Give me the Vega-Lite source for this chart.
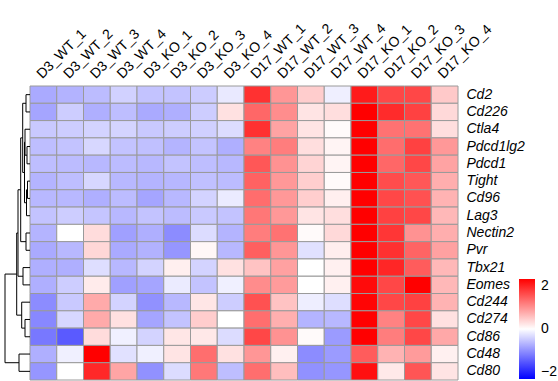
{
"$schema": "https://vega.github.io/schema/vega-lite/v6.json",
"padding": {"left": 4, "top": 20, "right": 2, "bottom": 3},
"background": "white",
"config": {"view": {"stroke": null}, "font": "Liberation Sans"},
"datasets": {
"m": [
{"g":"Cd2","s":"D3_WT_1","v":-0.78},{"g":"Cd2","s":"D3_WT_2","v":-0.7},{"g":"Cd2","s":"D3_WT_3","v":-0.62},{"g":"Cd2","s":"D3_WT_4","v":-0.42},{"g":"Cd2","s":"D3_KO_1","v":-0.55},{"g":"Cd2","s":"D3_KO_2","v":-0.55},{"g":"Cd2","s":"D3_KO_3","v":-0.47},{"g":"Cd2","s":"D3_KO_4","v":-0.2},{"g":"Cd2","s":"D17_WT_1","v":1.9},{"g":"Cd2","s":"D17_WT_2","v":0.97},{"g":"Cd2","s":"D17_WT_3","v":0.46},{"g":"Cd2","s":"D17_WT_4","v":-0.15},{"g":"Cd2","s":"D17_KO_1","v":2.1},{"g":"Cd2","s":"D17_KO_2","v":1.7},{"g":"Cd2","s":"D17_KO_3","v":1.7},{"g":"Cd2","s":"D17_KO_4","v":0.5},
{"g":"Cd226","s":"D3_WT_1","v":-0.83},{"g":"Cd226","s":"D3_WT_2","v":-0.46},{"g":"Cd226","s":"D3_WT_3","v":-0.74},{"g":"Cd226","s":"D3_WT_4","v":-0.6},{"g":"Cd226","s":"D3_KO_1","v":-0.78},{"g":"Cd226","s":"D3_KO_2","v":-0.74},{"g":"Cd226","s":"D3_KO_3","v":-0.46},{"g":"Cd226","s":"D3_KO_4","v":0.28},{"g":"Cd226","s":"D17_WT_1","v":1.4},{"g":"Cd226","s":"D17_WT_2","v":1.05},{"g":"Cd226","s":"D17_WT_3","v":0.25},{"g":"Cd226","s":"D17_WT_4","v":0.3},{"g":"Cd226","s":"D17_KO_1","v":2.35},{"g":"Cd226","s":"D17_KO_2","v":1.95},{"g":"Cd226","s":"D17_KO_3","v":1.75},{"g":"Cd226","s":"D17_KO_4","v":0.35},
{"g":"Ctla4","s":"D3_WT_1","v":-0.5},{"g":"Ctla4","s":"D3_WT_2","v":-0.46},{"g":"Ctla4","s":"D3_WT_3","v":-0.41},{"g":"Ctla4","s":"D3_WT_4","v":-0.4},{"g":"Ctla4","s":"D3_KO_1","v":-0.5},{"g":"Ctla4","s":"D3_KO_2","v":-0.46},{"g":"Ctla4","s":"D3_KO_3","v":-0.43},{"g":"Ctla4","s":"D3_KO_4","v":-0.32},{"g":"Ctla4","s":"D17_WT_1","v":1.9},{"g":"Ctla4","s":"D17_WT_2","v":0.85},{"g":"Ctla4","s":"D17_WT_3","v":0.25},{"g":"Ctla4","s":"D17_WT_4","v":0.05},{"g":"Ctla4","s":"D17_KO_1","v":2.35},{"g":"Ctla4","s":"D17_KO_2","v":1.3},{"g":"Ctla4","s":"D17_KO_3","v":1.3},{"g":"Ctla4","s":"D17_KO_4","v":0.3},
{"g":"Pdcd1lg2","s":"D3_WT_1","v":-0.6},{"g":"Pdcd1lg2","s":"D3_WT_2","v":-0.55},{"g":"Pdcd1lg2","s":"D3_WT_3","v":-0.37},{"g":"Pdcd1lg2","s":"D3_WT_4","v":-0.55},{"g":"Pdcd1lg2","s":"D3_KO_1","v":-0.58},{"g":"Pdcd1lg2","s":"D3_KO_2","v":-0.69},{"g":"Pdcd1lg2","s":"D3_KO_3","v":-0.55},{"g":"Pdcd1lg2","s":"D3_KO_4","v":-0.74},{"g":"Pdcd1lg2","s":"D17_WT_1","v":1.15},{"g":"Pdcd1lg2","s":"D17_WT_2","v":1.2},{"g":"Pdcd1lg2","s":"D17_WT_3","v":0.3},{"g":"Pdcd1lg2","s":"D17_WT_4","v":0.1},{"g":"Pdcd1lg2","s":"D17_KO_1","v":2.35},{"g":"Pdcd1lg2","s":"D17_KO_2","v":1.35},{"g":"Pdcd1lg2","s":"D17_KO_3","v":1.75},{"g":"Pdcd1lg2","s":"D17_KO_4","v":0.95},
{"g":"Pdcd1","s":"D3_WT_1","v":-0.6},{"g":"Pdcd1","s":"D3_WT_2","v":-0.62},{"g":"Pdcd1","s":"D3_WT_3","v":-0.65},{"g":"Pdcd1","s":"D3_WT_4","v":-0.62},{"g":"Pdcd1","s":"D3_KO_1","v":-0.65},{"g":"Pdcd1","s":"D3_KO_2","v":-0.55},{"g":"Pdcd1","s":"D3_KO_3","v":-0.6},{"g":"Pdcd1","s":"D3_KO_4","v":-0.65},{"g":"Pdcd1","s":"D17_WT_1","v":1.55},{"g":"Pdcd1","s":"D17_WT_2","v":1.0},{"g":"Pdcd1","s":"D17_WT_3","v":0.4},{"g":"Pdcd1","s":"D17_WT_4","v":0.1},{"g":"Pdcd1","s":"D17_KO_1","v":2.35},{"g":"Pdcd1","s":"D17_KO_2","v":1.4},{"g":"Pdcd1","s":"D17_KO_3","v":1.7},{"g":"Pdcd1","s":"D17_KO_4","v":0.85},
{"g":"Tight","s":"D3_WT_1","v":-0.69},{"g":"Tight","s":"D3_WT_2","v":-0.6},{"g":"Tight","s":"D3_WT_3","v":-0.37},{"g":"Tight","s":"D3_WT_4","v":-0.65},{"g":"Tight","s":"D3_KO_1","v":-0.69},{"g":"Tight","s":"D3_KO_2","v":-0.66},{"g":"Tight","s":"D3_KO_3","v":-0.58},{"g":"Tight","s":"D3_KO_4","v":-0.62},{"g":"Tight","s":"D17_WT_1","v":1.45},{"g":"Tight","s":"D17_WT_2","v":0.95},{"g":"Tight","s":"D17_WT_3","v":0.45},{"g":"Tight","s":"D17_WT_4","v":0.05},{"g":"Tight","s":"D17_KO_1","v":2.35},{"g":"Tight","s":"D17_KO_2","v":1.65},{"g":"Tight","s":"D17_KO_3","v":1.55},{"g":"Tight","s":"D17_KO_4","v":0.75},
{"g":"Cd96","s":"D3_WT_1","v":-0.65},{"g":"Cd96","s":"D3_WT_2","v":-0.65},{"g":"Cd96","s":"D3_WT_3","v":-0.74},{"g":"Cd96","s":"D3_WT_4","v":-0.62},{"g":"Cd96","s":"D3_KO_1","v":-0.83},{"g":"Cd96","s":"D3_KO_2","v":-0.65},{"g":"Cd96","s":"D3_KO_3","v":-0.41},{"g":"Cd96","s":"D3_KO_4","v":-0.18},{"g":"Cd96","s":"D17_WT_1","v":1.35},{"g":"Cd96","s":"D17_WT_2","v":0.95},{"g":"Cd96","s":"D17_WT_3","v":0.45},{"g":"Cd96","s":"D17_WT_4","v":0.15},{"g":"Cd96","s":"D17_KO_1","v":2.35},{"g":"Cd96","s":"D17_KO_2","v":1.7},{"g":"Cd96","s":"D17_KO_3","v":1.6},{"g":"Cd96","s":"D17_KO_4","v":0.7},
{"g":"Lag3","s":"D3_WT_1","v":-0.55},{"g":"Lag3","s":"D3_WT_2","v":-0.46},{"g":"Lag3","s":"D3_WT_3","v":-0.53},{"g":"Lag3","s":"D3_WT_4","v":-0.65},{"g":"Lag3","s":"D3_KO_1","v":-0.55},{"g":"Lag3","s":"D3_KO_2","v":-0.62},{"g":"Lag3","s":"D3_KO_3","v":-0.5},{"g":"Lag3","s":"D3_KO_4","v":-0.55},{"g":"Lag3","s":"D17_WT_1","v":1.25},{"g":"Lag3","s":"D17_WT_2","v":0.95},{"g":"Lag3","s":"D17_WT_3","v":0.25},{"g":"Lag3","s":"D17_WT_4","v":0.3},{"g":"Lag3","s":"D17_KO_1","v":2.35},{"g":"Lag3","s":"D17_KO_2","v":1.75},{"g":"Lag3","s":"D17_KO_3","v":1.7},{"g":"Lag3","s":"D17_KO_4","v":0.65},
{"g":"Nectin2","s":"D3_WT_1","v":-0.69},{"g":"Nectin2","s":"D3_WT_2","v":0.0},{"g":"Nectin2","s":"D3_WT_3","v":0.32},{"g":"Nectin2","s":"D3_WT_4","v":-0.88},{"g":"Nectin2","s":"D3_KO_1","v":-0.74},{"g":"Nectin2","s":"D3_KO_2","v":-1.06},{"g":"Nectin2","s":"D3_KO_3","v":-0.32},{"g":"Nectin2","s":"D3_KO_4","v":-0.69},{"g":"Nectin2","s":"D17_WT_1","v":1.2},{"g":"Nectin2","s":"D17_WT_2","v":1.3},{"g":"Nectin2","s":"D17_WT_3","v":0.05},{"g":"Nectin2","s":"D17_WT_4","v":0.35},{"g":"Nectin2","s":"D17_KO_1","v":2.35},{"g":"Nectin2","s":"D17_KO_2","v":1.85},{"g":"Nectin2","s":"D17_KO_3","v":1.0},{"g":"Nectin2","s":"D17_KO_4","v":0.75},
{"g":"Pvr","s":"D3_WT_1","v":-0.78},{"g":"Pvr","s":"D3_WT_2","v":-0.65},{"g":"Pvr","s":"D3_WT_3","v":0.37},{"g":"Pvr","s":"D3_WT_4","v":-0.78},{"g":"Pvr","s":"D3_KO_1","v":-0.71},{"g":"Pvr","s":"D3_KO_2","v":-0.97},{"g":"Pvr","s":"D3_KO_3","v":0.07},{"g":"Pvr","s":"D3_KO_4","v":-0.65},{"g":"Pvr","s":"D17_WT_1","v":1.47},{"g":"Pvr","s":"D17_WT_2","v":0.97},{"g":"Pvr","s":"D17_WT_3","v":-0.28},{"g":"Pvr","s":"D17_WT_4","v":0.16},{"g":"Pvr","s":"D17_KO_1","v":2.35},{"g":"Pvr","s":"D17_KO_2","v":1.9},{"g":"Pvr","s":"D17_KO_3","v":1.43},{"g":"Pvr","s":"D17_KO_4","v":0.87},
{"g":"Tbx21","s":"D3_WT_1","v":-0.74},{"g":"Tbx21","s":"D3_WT_2","v":-0.74},{"g":"Tbx21","s":"D3_WT_3","v":-0.3},{"g":"Tbx21","s":"D3_WT_4","v":-0.65},{"g":"Tbx21","s":"D3_KO_1","v":-0.41},{"g":"Tbx21","s":"D3_KO_2","v":0.15},{"g":"Tbx21","s":"D3_KO_3","v":-0.41},{"g":"Tbx21","s":"D3_KO_4","v":0.28},{"g":"Tbx21","s":"D17_WT_1","v":0.55},{"g":"Tbx21","s":"D17_WT_2","v":0.87},{"g":"Tbx21","s":"D17_WT_3","v":0.0},{"g":"Tbx21","s":"D17_WT_4","v":0.14},{"g":"Tbx21","s":"D17_KO_1","v":2.35},{"g":"Tbx21","s":"D17_KO_2","v":2.0},{"g":"Tbx21","s":"D17_KO_3","v":1.5},{"g":"Tbx21","s":"D17_KO_4","v":0.65},
{"g":"Eomes","s":"D3_WT_1","v":-0.74},{"g":"Eomes","s":"D3_WT_2","v":-0.46},{"g":"Eomes","s":"D3_WT_3","v":0.18},{"g":"Eomes","s":"D3_WT_4","v":-0.88},{"g":"Eomes","s":"D3_KO_1","v":-0.83},{"g":"Eomes","s":"D3_KO_2","v":-0.18},{"g":"Eomes","s":"D3_KO_3","v":-0.55},{"g":"Eomes","s":"D3_KO_4","v":-0.14},{"g":"Eomes","s":"D17_WT_1","v":1.06},{"g":"Eomes","s":"D17_WT_2","v":0.92},{"g":"Eomes","s":"D17_WT_3","v":0.0},{"g":"Eomes","s":"D17_WT_4","v":0.14},{"g":"Eomes","s":"D17_KO_1","v":2.25},{"g":"Eomes","s":"D17_KO_2","v":1.7},{"g":"Eomes","s":"D17_KO_3","v":2.35},{"g":"Eomes","s":"D17_KO_4","v":0.65},
{"g":"Cd244","s":"D3_WT_1","v":-1.06},{"g":"Cd244","s":"D3_WT_2","v":-0.5},{"g":"Cd244","s":"D3_WT_3","v":0.78},{"g":"Cd244","s":"D3_WT_4","v":-0.41},{"g":"Cd244","s":"D3_KO_1","v":-1.01},{"g":"Cd244","s":"D3_KO_2","v":-0.65},{"g":"Cd244","s":"D3_KO_3","v":0.23},{"g":"Cd244","s":"D3_KO_4","v":-0.46},{"g":"Cd244","s":"D17_WT_1","v":1.6},{"g":"Cd244","s":"D17_WT_2","v":0.55},{"g":"Cd244","s":"D17_WT_3","v":-0.16},{"g":"Cd244","s":"D17_WT_4","v":-0.3},{"g":"Cd244","s":"D17_KO_1","v":2.3},{"g":"Cd244","s":"D17_KO_2","v":1.7},{"g":"Cd244","s":"D17_KO_3","v":1.75},{"g":"Cd244","s":"D17_KO_4","v":0.7},
{"g":"Cd274","s":"D3_WT_1","v":-1.1},{"g":"Cd274","s":"D3_WT_2","v":-0.37},{"g":"Cd274","s":"D3_WT_3","v":0.78},{"g":"Cd274","s":"D3_WT_4","v":0.28},{"g":"Cd274","s":"D3_KO_1","v":-0.83},{"g":"Cd274","s":"D3_KO_2","v":-0.55},{"g":"Cd274","s":"D3_KO_3","v":0.46},{"g":"Cd274","s":"D3_KO_4","v":0.0},{"g":"Cd274","s":"D17_WT_1","v":1.34},{"g":"Cd274","s":"D17_WT_2","v":0.74},{"g":"Cd274","s":"D17_WT_3","v":-0.69},{"g":"Cd274","s":"D17_WT_4","v":-0.65},{"g":"Cd274","s":"D17_KO_1","v":2.35},{"g":"Cd274","s":"D17_KO_2","v":1.15},{"g":"Cd274","s":"D17_KO_3","v":1.7},{"g":"Cd274","s":"D17_KO_4","v":0.28},
{"g":"Cd86","s":"D3_WT_1","v":-1.24},{"g":"Cd86","s":"D3_WT_2","v":-1.52},{"g":"Cd86","s":"D3_WT_3","v":0.32},{"g":"Cd86","s":"D3_WT_4","v":-0.14},{"g":"Cd86","s":"D3_KO_1","v":-0.41},{"g":"Cd86","s":"D3_KO_2","v":0.23},{"g":"Cd86","s":"D3_KO_3","v":0.21},{"g":"Cd86","s":"D3_KO_4","v":-0.32},{"g":"Cd86","s":"D17_WT_1","v":1.7},{"g":"Cd86","s":"D17_WT_2","v":1.0},{"g":"Cd86","s":"D17_WT_3","v":0.05},{"g":"Cd86","s":"D17_WT_4","v":-0.92},{"g":"Cd86","s":"D17_KO_1","v":2.35},{"g":"Cd86","s":"D17_KO_2","v":1.2},{"g":"Cd86","s":"D17_KO_3","v":1.7},{"g":"Cd86","s":"D17_KO_4","v":0.8},
{"g":"Cd48","s":"D3_WT_1","v":-0.74},{"g":"Cd48","s":"D3_WT_2","v":-0.14},{"g":"Cd48","s":"D3_WT_3","v":2.35},{"g":"Cd48","s":"D3_WT_4","v":-0.28},{"g":"Cd48","s":"D3_KO_1","v":-0.14},{"g":"Cd48","s":"D3_KO_2","v":0.25},{"g":"Cd48","s":"D3_KO_3","v":1.34},{"g":"Cd48","s":"D3_KO_4","v":0.28},{"g":"Cd48","s":"D17_WT_1","v":0.97},{"g":"Cd48","s":"D17_WT_2","v":0.14},{"g":"Cd48","s":"D17_WT_3","v":-1.06},{"g":"Cd48","s":"D17_WT_4","v":-0.92},{"g":"Cd48","s":"D17_KO_1","v":1.5},{"g":"Cd48","s":"D17_KO_2","v":0.7},{"g":"Cd48","s":"D17_KO_3","v":0.92},{"g":"Cd48","s":"D17_KO_4","v":0.14},
{"g":"Cd80","s":"D3_WT_1","v":-0.97},{"g":"Cd80","s":"D3_WT_2","v":0.0},{"g":"Cd80","s":"D3_WT_3","v":1.98},{"g":"Cd80","s":"D3_WT_4","v":0.83},{"g":"Cd80","s":"D3_KO_1","v":-1.01},{"g":"Cd80","s":"D3_KO_2","v":-0.32},{"g":"Cd80","s":"D3_KO_3","v":1.24},{"g":"Cd80","s":"D3_KO_4","v":-0.6},{"g":"Cd80","s":"D17_WT_1","v":1.34},{"g":"Cd80","s":"D17_WT_2","v":0.6},{"g":"Cd80","s":"D17_WT_3","v":-1.01},{"g":"Cd80","s":"D17_WT_4","v":-0.97},{"g":"Cd80","s":"D17_KO_1","v":2.2},{"g":"Cd80","s":"D17_KO_2","v":0.2},{"g":"Cd80","s":"D17_KO_3","v":1.57},{"g":"Cd80","s":"D17_KO_4","v":0.25}
],
"tree": [
{"h1":4,"h2":4,"y1":0,"y2":1},{"h1":0,"h2":4,"y1":0,"y2":0},{"h1":0,"h2":4,"y1":1,"y2":1},
{"h1":3,"h2":3,"y1":3,"y2":4},{"h1":0,"h2":3,"y1":3,"y2":3},{"h1":0,"h2":3,"y1":4,"y2":4},
{"h1":5,"h2":5,"y1":2,"y2":3.5},{"h1":0,"h2":5,"y1":2,"y2":2},{"h1":3,"h2":5,"y1":3.5,"y2":3.5},
{"h1":2.5,"h2":2.5,"y1":5,"y2":6},{"h1":0,"h2":2.5,"y1":5,"y2":5},{"h1":0,"h2":2.5,"y1":6,"y2":6},
{"h1":3.5,"h2":3.5,"y1":5.5,"y2":7},{"h1":2.5,"h2":3.5,"y1":5.5,"y2":5.5},{"h1":0,"h2":3.5,"y1":7,"y2":7},
{"h1":5.5,"h2":5.5,"y1":2.75,"y2":6.25},{"h1":5,"h2":5.5,"y1":2.75,"y2":2.75},{"h1":3.5,"h2":5.5,"y1":6.25,"y2":6.25},
{"h1":7.3,"h2":7.3,"y1":0.5,"y2":4.5},{"h1":4,"h2":7.3,"y1":0.5,"y2":0.5},{"h1":5.5,"h2":7.3,"y1":4.5,"y2":4.5},
{"h1":4,"h2":4,"y1":8,"y2":9},{"h1":0,"h2":4,"y1":8,"y2":8},{"h1":0,"h2":4,"y1":9,"y2":9},
{"h1":9.3,"h2":9.3,"y1":2.5,"y2":8.5},{"h1":7.3,"h2":9.3,"y1":2.5,"y2":2.5},{"h1":4,"h2":9.3,"y1":8.5,"y2":8.5},
{"h1":7,"h2":7,"y1":10,"y2":11},{"h1":0,"h2":7,"y1":10,"y2":10},{"h1":0,"h2":7,"y1":11,"y2":11},
{"h1":12,"h2":12,"y1":5.5,"y2":10.5},{"h1":9.3,"h2":12,"y1":5.5,"y2":5.5},{"h1":7,"h2":12,"y1":10.5,"y2":10.5},
{"h1":5,"h2":5,"y1":13,"y2":14},{"h1":0,"h2":5,"y1":13,"y2":13},{"h1":0,"h2":5,"y1":14,"y2":14},
{"h1":8.3,"h2":8.3,"y1":12,"y2":13.5},{"h1":0,"h2":8.3,"y1":12,"y2":12},{"h1":5,"h2":8.3,"y1":13.5,"y2":13.5},
{"h1":13.3,"h2":13.3,"y1":8,"y2":12.75},{"h1":12,"h2":13.3,"y1":8,"y2":8},{"h1":8.3,"h2":13.3,"y1":12.75,"y2":12.75},
{"h1":11,"h2":11,"y1":15,"y2":16},{"h1":0,"h2":11,"y1":15,"y2":15},{"h1":0,"h2":11,"y1":16,"y2":16},
{"h1":25,"h2":25,"y1":10.375,"y2":15.5},{"h1":13.3,"h2":25,"y1":10.375,"y2":10.375},{"h1":11,"h2":25,"y1":15.5,"y2":15.5}
]
},
"width": 428,
"height": 294,
"layer": [
{
"data": {"name": "m"},
"mark": {"type": "rect", "stroke": "#9a9a9a", "strokeWidth": 1},
"encoding": {
"x": {"field": "s", "type": "nominal", "sort": ["D3_WT_1","D3_WT_2","D3_WT_3","D3_WT_4","D3_KO_1","D3_KO_2","D3_KO_3","D3_KO_4","D17_WT_1","D17_WT_2","D17_WT_3","D17_WT_4","D17_KO_1","D17_KO_2","D17_KO_3","D17_KO_4"], "scale": {"paddingInner": 0, "paddingOuter": 0},
 "axis": {"orient": "top", "title": null, "ticks": false, "domain": false, "labelAngle": -45, "labelAlign": "left", "labelBaseline": "middle", "labelPadding": 10, "labelOffset": -4, "labelFontSize": 14, "labelColor": "black", "labelFont": "Liberation Sans"}},
"y": {"field": "g", "type": "nominal", "sort": ["Cd2","Cd226","Ctla4","Pdcd1lg2","Pdcd1","Tight","Cd96","Lag3","Nectin2","Pvr","Tbx21","Eomes","Cd244","Cd274","Cd86","Cd48","Cd80"], "scale": {"paddingInner": 0, "paddingOuter": 0},
 "axis": {"orient": "right", "title": null, "ticks": false, "domain": false, "labelPadding": 8, "labelFontSize": 14, "labelFontStyle": "italic", "labelColor": "black", "labelFont": "Liberation Sans"}},
"color": {"field": "v", "type": "quantitative",
 "scale": {"domain": [-2.35, 0, 2.35], "range": ["#0000ff", "#ffffff", "#ff0000"], "interpolate": "rgb"},
 "legend": {"orient": "none", "legendX": 489, "legendY": 193, "title": null, "values": [-2, 0, 2], "gradientLength": 100, "gradientThickness": 16, "gradientStrokeWidth": 0, "labelFontSize": 14, "labelColor": "black", "labelOffset": 6, "direction": "vertical"}}
}
},
{
"data": {"name": "tree"},
"mark": {"type": "rule", "color": "black", "strokeWidth": 1},
"encoding": {
"x": {"field": "h1", "type": "quantitative", "scale": {"domain": [-428, 0], "reverse": true, "nice": false, "zero": false, "clamp": false}, "axis": null},
"x2": {"field": "h2"},
"y": {"field": "y1", "type": "quantitative", "scale": {"domain": [-0.5, 16.5], "reverse": true, "nice": false, "zero": false}, "axis": null},
"y2": {"field": "y2"}
}
}
],
"resolve": {"scale": {"x": "independent", "y": "independent"}}
}
